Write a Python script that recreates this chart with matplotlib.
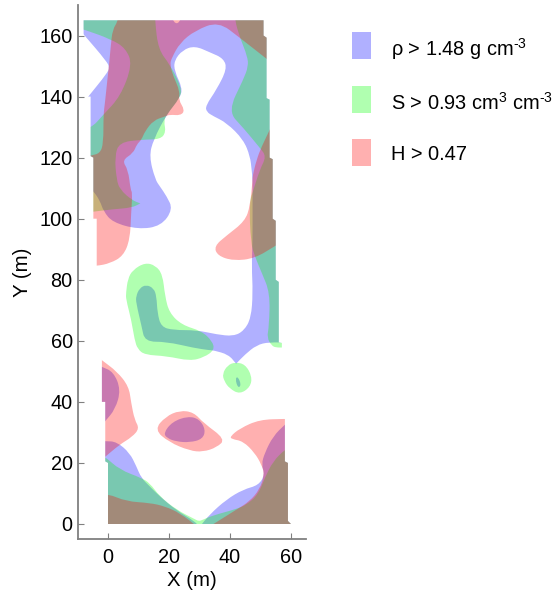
import matplotlib
matplotlib.use('Agg')
import matplotlib.pyplot as plt
from matplotlib.patches import PathPatch, Polygon, Rectangle
from matplotlib.path import Path

plt.rcParams['font.family'] = ['Liberation Sans', 'DejaVu Sans']
plt.rcParams['mathtext.fontset'] = 'custom'
plt.rcParams['mathtext.rm'] = 'Liberation Sans'
plt.rcParams['mathtext.default'] = 'rm'

# outline of the sampled plot (the stair steps)
domain = [(-8, 165), (51, 165), (51, 160), (52, 159.3), (52, 139.5), (53, 139), (53, 120), (54, 119.5),
          (54, 100), (55, 99.3), (55, 80), (56, 79.3), (56, 59.5), (57, 59.3), (57, 35), (58, 34.4),
          (58, 20.5), (59, 20), (59, 1), (60, 0), (0, 0), (0, 20), (-0.9, 20.5), (-0.9, 40), (-2, 40),
          (-2, 60), (-3, 60), (-3, 80), (-3.7, 80), (-3.7, 100), (-4.8, 100), (-4.8, 120), (-5.7, 120.5),
          (-5.7, 140), (-8, 140)]

# repeated points are sharp corners
rho_main = [(-12, 172), (-12, 172), (19.5, 172), (19.5, 172), (21, 165.3), (22.5, 163.6), (24, 165.3),
            (25.5, 172), (25.5, 172), (60, 172), (60, 172), (60, 59.3), (60, 59.3), (52.8, 59.6), (48.7, 58.6),
            (44.9, 55.5), (42, 52.5), (42, 52.5), (39.5, 55.5), (34.5, 56.9), (33.4, 56.9), (28, 57.7),
            (19.2, 59.7), (12.1, 59.7), (11, 64.8), (9.2, 72.5), (9.2, 74.6), (10.3, 77.2), (12.5, 78.4),
            (15, 77.2), (15.9, 74.6), (16.2, 69.2), (17.4, 64.6), (21.4, 63.5), (29.1, 63.5), (35.6, 62.1),
            (41.1, 61.5), (44.6, 63.3), (46.9, 67.5), (47.5, 75.7), (47.1, 84.5), (47.4, 93.2), (47.4, 102),
            (47.4, 112.9), (47.1, 116), (46.6, 120.4), (44.4, 125.9), (38.9, 131.4), (34.5, 133.6), (32.3, 135),
            (32, 137), (35.6, 142.3), (39, 149), (37.9, 152.5), (33.4, 154.5), (28.5, 156.6), (24.5, 155.3),
            (21.7, 151.8), (21.8, 148.3), (24.4, 142.8), (23.6, 139.6), (19.2, 134.1), (14.9, 125.9), (13.5, 120.4),
            (15.5, 112.8), (17, 110.6), (19.2, 107.4), (21.3, 103.1), (17.4, 97.6), (9.9, 96.5), (1.5, 98.8),
            (-1.5, 102.5), (-2.6, 105.8), (-4.8, 109.1), (-8, 112), (-12, 112), (-12, 112), (-12, 135), (-12, 135),
            (-8, 138), (-6.4, 140.1), (-0.4, 147.5), (0.5, 149.5), (-0.4, 151.5), (-7.9, 160.3), (-10, 162.5),
            (-12, 162.5), (-12, 162.5)]
rho_left = [(-6, 53), (-6, 53), (-2, 51.5), (1.8, 49.8), (4.2, 44), (2.4, 37.6), (-0.9, 33.7), (-4, 30),
            (-6, 30), (-6, 30)]
rho_bottom = [(-6, 26.9), (-6, 26.9), (-0.9, 27.2), (2.9, 26.9), (7.1, 23.3), (9.3, 18.9), (10.9, 15.1), (13.7, 12.3),
              (16.9, 9.1), (22.4, 4.5), (28.4, 0.9), (30, -1), (30, -1), (33.3, 3.1), (38.8, 8), (44.3, 11.3),
              (49.4, 12.7), (51.4, 16.2), (50.3, 19.5), (51.4, 23.3), (54.1, 28.7), (58, 32.6), (62, 36), (62, 36),
              (62, -3), (62, -3), (-6, -3), (-6, -3)]
rho_middle = [(18.2, 29.8), (21.1, 33.5), (26.2, 35.3), (29.9, 34.4), (32, 30.9), (31, 27.8), (26.8, 26.7),
              (22.4, 27), (19.4, 28.1)]
rho_spot = [(41.7, 47.6), (42.6, 48.3), (43.7, 45.5), (42.6, 44.5)]

s_left = [(15.2, 172), (15.2, 172), (15.4, 164.9), (16.5, 155.4), (20.3, 150.5), (24.2, 142.8), (23.6, 139.6),
          (19.2, 134.1), (18.3, 131.9), (19, 128.4), (17.2, 126), (11, 125.9), (3.7, 125), (2.2, 120.4),
          (2.8, 112.8), (3.9, 109.6), (7.8, 106.1), (10.6, 105), (10.6, 105), (7.8, 103.6), (1.7, 103.1), (-4.8, 102.3),
          (-12, 101.5), (-12, 101.5), (-12, 129), (-12, 129), (-5.7, 129.4), (-1.5, 134.1), (4.1, 140.1), (8, 150.5),
          (5.8, 155.8), (1.2, 158.7), (-7.9, 162), (-12, 163), (-12, 163), (-12, 172), (-12, 172)]
s_right = [(41, 172), (41, 172), (41.6, 164.9), (43.3, 159.2), (45.7, 153.2), (46, 149.9), (44.4, 145.6),
           (39.3, 135.2), (44.4, 129.7), (49.8, 123.2), (51.9, 120.4), (49.8, 116.1), (47.7, 109.5), (46.3, 105.2),
           (46.8, 92.1), (48.2, 87.5), (50.4, 82.3), (53.1, 75.7), (52.8, 64.8), (52.1, 61), (53.7, 58.4), (55, 57.8),
           (57.5, 57.8), (57.5, 57.8), (57.5, 59.5), (57.5, 59.5), (60, 59.5), (60, 59.5), (60, 172), (60, 172)]
s_blob = [(5.9, 75.7), (6.5, 80.3), (8.1, 83.2), (12.1, 85.6), (15.6, 84.7), (17.9, 81.7), (18.7, 74.6), (20.1, 69.2),
          (24.2, 65.2), (30.7, 63.2), (34.2, 59.9), (34.9, 57), (31.5, 54.6), (26.9, 53.4), (19.2, 55), (12.1, 55.4),
          (9.7, 57.3), (8.7, 60.4), (7.6, 67), (5.9, 73.6)]
s_small = [(37.5, 49.2), (39.2, 52), (41.7, 53), (45, 52.3), (47.2, 48.4), (46.7, 44.9), (43.2, 42.5), (39.8, 44.4),
           (38.1, 46.8)]
s_bottom = [(-6, 25), (-6, 25), (-0.9, 22), (3.8, 17.8), (10.9, 15.1), (13.7, 13.4), (16.9, 9.1), (22.4, 4.7), (28.4, 1.6),
            (29.8, 0.9), (31.1, 1.4), (34.4, 2.8), (42.1, 4.9), (45.4, 6.3), (49.2, 9.6), (51.4, 15.1), (54.1, 20.5),
            (58, 24.4), (62, 27), (62, 27), (62, -3), (62, -3), (-6, -3), (-6, -3)]

h_main = [(4, 172), (4, 172), (60, 172), (60, 172), (60, 146), (60, 146), (52.1, 152.3), (43.3, 159.2), (36.2, 164.6),
          (28.5, 161.6), (23.6, 157.6), (20.9, 152.7), (20.3, 150.5), (21.4, 146.7), (23.6, 141.7), (23.1, 139),
          (25.2, 135.5), (23.8, 133.8), (20.3, 134.1), (18.7, 133.5), (14.9, 132.2), (12.1, 128.6), (11, 125.9),
          (9.4, 124.3), (8.3, 121.5), (4.6, 119.1), (6.6, 116), (7.4, 109.5), (8, 108.5), (7.6, 102), (7.2, 93.2),
          (5, 87.8), (0.7, 85.4), (-3.7, 84.5), (-12, 84), (-12, 84), (-12, 119), (-12, 119), (-5.7, 120.7),
          (-2.6, 121.4), (-1.5, 124.8), (-1.5, 134.1), (-1, 137.9), (-0.2, 145.6), (0.4, 151), (0.9, 156.5),
          (1.5, 162), (3.4, 164.9)]
h_right = [(57, 138), (57, 138), (60, 138), (60, 138), (60, 94), (60, 94), (55.1, 91.3), (48.2, 87), (41.1, 86.2),
           (35.9, 87.9), (34.8, 91), (38.9, 94.5), (44.9, 99.2), (46.6, 104.2), (47.4, 112.9), (47.4, 113.9),
           (48.7, 119.3), (50.4, 123.7), (53.1, 129.2)]
h_left = [(-6, 57), (-6, 57), (-2, 53.6), (2.9, 50), (6.8, 45.1), (7.6, 39.7), (8.7, 34.2), (10.3, 31.3), (7.9, 28.5),
          (3.8, 26), (-0.9, 22), (-6, 18), (-6, 18)]
h_middle = [(15.2, 30.9), (18.9, 35.2), (23.5, 37.2), (28.1, 36.6), (31.3, 33.1), (38.5, 27.8), (35.7, 25.1),
            (31.1, 23.6), (26.8, 24), (20, 26.8)]
h_bottom_l = [(-6, 10), (-6, 10), (0, 9.9), (6, 7.4), (13.7, 6.9), (18.6, 5.8), (23.5, 3.6), (29.5, -1), (29.5, -1),
              (-6, -3), (-6, -3)]
h_bottom_r = [(33, -1), (33, -1), (42.1, 4.7), (46.4, 7.4), (49.7, 11.3), (51.3, 16.2), (50.3, 19.5), (48.1, 23.3),
              (44.3, 27.1), (40.6, 27.8), (40, 28.6), (43.2, 31.3), (49.7, 34.2), (58, 34.4), (62, 34.6), (62, 34.6),
              (62, -3), (62, -3), (33, -3), (33, -3)]

rho_parts = [rho_main, rho_left, rho_bottom, rho_middle, rho_spot]
s_parts = [s_left, s_right, s_blob, s_small, s_bottom]
h_parts = [h_main, h_right, h_left, h_middle, h_bottom_l, h_bottom_r]

labels = ['\u03c1 > 1.48 g cm$^{\\text{-3}}$', 'S > 0.93 cm$^{3}$ cm$^{\\text{-3}}$', 'H > 0.47']
colors = ['b', 'g', 'r']
pure = {'b': (0, 0, 1, 0.31), 'g': (0, 1, 0, 0.31), 'r': (1, 0, 0, 0.31)}


def smooth_path(pts):
    # closed quadratic curve through the midpoints of the outline
    mids = [((pts[i][0] + pts[(i + 1) % len(pts)][0]) / 2, (pts[i][1] + pts[(i + 1) % len(pts)][1]) / 2)
            for i in range(len(pts))]
    verts = [mids[-1]]
    codes = [Path.MOVETO]
    for i in range(len(pts)):
        verts += [pts[i], mids[i]]
        codes += [Path.CURVE3, Path.CURVE3]
    return Path(verts, codes)


W, H = 558, 595
fig = plt.figure(figsize=(W / 100, H / 100), dpi=100)
ax = fig.add_axes([77.5 / W, 1 - 539.25 / H, (306.25 - 77.5) / W, (539.25 - 5) / H])

clip = Polygon(domain, closed=True, transform=ax.transData)
for parts, c in zip([rho_parts, s_parts, h_parts], colors):
    for p in parts:
        patch = PathPatch(smooth_path(p), facecolor=pure[c], edgecolor='none', linewidth=0)
        ax.add_patch(patch)
        patch.set_clip_path(clip)

ax.set_xlim(-10, 65)
ax.set_ylim(-5, 170)
ax.set_xticks([0, 20, 40, 60])
ax.set_yticks([0, 20, 40, 60, 80, 100, 120, 140, 160])
ax.tick_params(direction='in', length=4, width=0.8, color='#808080', labelsize=14.3)
ax.tick_params(axis='x', pad=6)
ax.tick_params(axis='y', pad=3.5)
ax.spines['top'].set_visible(False)
ax.spines['right'].set_visible(False)
ax.spines['left'].set_color('#808080')
ax.spines['bottom'].set_color('#808080')
ax.spines['left'].set_linewidth(1.3)
ax.spines['bottom'].set_linewidth(1.3)
ax.set_xlabel('X (m)', fontsize=14.7, labelpad=3)
ax.set_ylabel('Y (m)', fontsize=14.7, labelpad=5)

for i in range(3):
    top = [32, 85.5, 139][i]
    fig.add_artist(Rectangle((351.7 / W, 1 - (top + 27) / H), 19.5 / W, 27 / H, transform=fig.transFigure,
                             facecolor=pure[colors[i]], edgecolor='none'))
    fig.text(391 / W, 1 - [56, 110, 160][i] / H, labels[i], fontsize=14.4, color='black', va='baseline')

fig.savefig('out.png', dpi=100)
